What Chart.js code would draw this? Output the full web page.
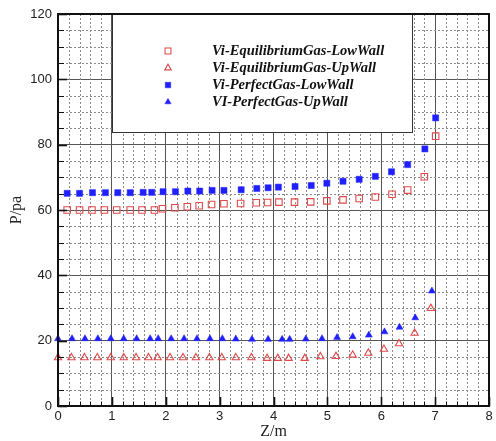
<!DOCTYPE html>
<html>
<head>
<meta charset="utf-8">
<script src="https://cdn.jsdelivr.net/npm/chart.js@4.4.1/dist/chart.umd.min.js"></script>
<style>
  html, body { margin: 0; padding: 0; background: #ffffff; }
  #wrap { width: 496px; height: 441px; }
</style>
</head>
<body>
<div id="wrap"><canvas id="c" width="496" height="441"></canvas></div>
<script>
// ---- Data ----
const seriesLabels = [
  "Vi-EquilibriumGas-LowWall",
  "Vi-EquilibriumGas-UpWall",
  "Vi-PerfectGas-LowWall",
  "VI-PerfectGas-UpWall"
];

const eqLowZ = [0.17,0.40,0.63,0.86,1.09,1.34,1.56,1.79,1.94,2.17,2.40,2.62,2.85,3.08,3.39,3.68,3.89,4.10,4.39,4.69,4.99,5.29,5.59,5.89,6.20,6.49,6.80,7.01];
const eqLowP = [60.0,60.0,60.0,60.0,60.0,60.0,60.0,60.0,60.4,60.7,61.0,61.3,61.7,61.9,62.0,62.2,62.3,62.4,62.4,62.5,62.8,63.1,63.5,64.0,64.8,66.1,70.2,82.6];

const eqUpZ = [0.00,0.25,0.49,0.73,0.98,1.22,1.45,1.68,1.85,2.08,2.32,2.56,2.81,3.04,3.30,3.59,3.88,4.08,4.28,4.58,4.87,5.16,5.47,5.76,6.05,6.33,6.62,6.92];
const eqUpP = [14.8,14.8,14.8,14.8,14.8,14.8,14.8,14.8,14.8,14.8,14.8,14.8,14.8,14.8,14.8,14.8,14.6,14.6,14.6,14.6,15.1,15.2,15.6,16.2,17.4,19.1,22.3,29.9];

const pgLowZ = [0.17,0.40,0.64,0.88,1.11,1.34,1.58,1.74,1.95,2.18,2.41,2.63,2.86,3.08,3.40,3.69,3.90,4.09,4.40,4.70,4.99,5.29,5.59,5.89,6.19,6.49,6.81,7.01];
const pgLowP = [65.1,65.1,65.3,65.3,65.3,65.3,65.4,65.4,65.6,65.6,65.8,65.8,66.0,66.0,66.2,66.6,66.8,67.0,67.2,67.5,68.2,68.8,69.4,70.3,71.7,73.9,78.7,88.2];

const pgUpZ = [0.00,0.26,0.50,0.74,0.98,1.22,1.46,1.71,1.86,2.10,2.34,2.58,2.82,3.05,3.30,3.60,3.90,4.16,4.30,4.60,4.90,5.18,5.47,5.77,6.06,6.34,6.63,6.94];
const pgUpP = [20.6,20.6,20.6,20.6,20.6,20.6,20.6,20.6,20.6,20.6,20.6,20.6,20.6,20.6,20.5,20.4,20.4,20.4,20.4,20.5,20.6,21.0,21.2,21.7,22.7,24.1,27.0,35.2];

const xTicks = [0,1,2,3,4,5,6,7,8];
const yTicks = [0,20,40,60,80,100,120];
const xTitle = "Z/m";
const yTitle = "P/pa";

// ---- helpers ----
function pts(xs, ys) { return xs.map((x, i) => ({ x: x, y: ys[i] })); }

const RED = "#e04a4a";
const BLUE = "#2020ff";

const datasets = [
  { label: seriesLabels[0], data: pts(eqLowZ, eqLowP), pointStyle: "rect", pointRadius: 4.6,
    borderColor: RED, backgroundColor: "rgba(0,0,0,0)", pointBorderWidth: 1.1 },
  { label: seriesLabels[1], data: pts(eqUpZ, eqUpP), pointStyle: "triangle", pointRadius: 4.2,
    borderColor: RED, backgroundColor: "rgba(0,0,0,0)", pointBorderWidth: 1.1 },
  { label: seriesLabels[2], data: pts(pgLowZ, pgLowP), pointStyle: "rect", pointRadius: 4.3,
    borderColor: BLUE, backgroundColor: BLUE, pointBorderWidth: 0.5 },
  { label: seriesLabels[3], data: pts(pgUpZ, pgUpP), pointStyle: "triangle", pointRadius: 4.0,
    borderColor: BLUE, backgroundColor: BLUE, pointBorderWidth: 0.5 }
].map(d => Object.assign(d, { showLine: false, clip: false, pointHoverRadius: d.pointRadius }));

// ---- plugin: minor grid, legend box, frame and inner ticks ----
const decor = {
  id: "decor",
  beforeDatasetsDraw(chart) {
    const { ctx, chartArea: a, scales: { x, y } } = chart;
    ctx.save();
    // minor grid lines (dashed)
    ctx.strokeStyle = "#8a8a8a";
    ctx.lineWidth = 1;
    ctx.setLineDash([2, 2]);
    for (let i = 1; i < 40; i++) {
      if (i % 5 === 0) continue;
      const px = Math.round(x.getPixelForValue(i * 0.2)) + 0.5;
      ctx.beginPath(); ctx.moveTo(px, a.top); ctx.lineTo(px, a.bottom); ctx.stroke();
    }
    for (let v = 5; v < 120; v += 5) {
      if (v % 20 === 0) continue;
      const py = Math.round(y.getPixelForValue(v)) + 0.5;
      ctx.beginPath(); ctx.moveTo(a.left, py); ctx.lineTo(a.right, py); ctx.stroke();
    }
    ctx.setLineDash([]);

    // legend box
    const bx = a.left + 54, by = a.top, bw = 300, bh = 118;
    ctx.fillStyle = "#ffffff";
    ctx.fillRect(bx, by, bw, bh);
    ctx.strokeStyle = "#333333";
    ctx.lineWidth = 1;
    ctx.strokeRect(bx + 0.5, by + 0.5, bw, bh);
    ctx.font = "bold italic 14.5px 'Liberation Serif', 'Times New Roman', serif";
    ctx.textBaseline = "middle";
    ctx.textAlign = "left";
    const rowY0 = by + 37, rowH = 17;
    chart.data.datasets.forEach((ds, i) => {
      const cy = rowY0 + i * rowH;
      const cx = bx + 56;
      ctx.fillStyle = ds.backgroundColor;
      ctx.strokeStyle = ds.borderColor;
      ctx.lineWidth = ds.pointBorderWidth;
      Chart.helpers.drawPoint(ctx, {
        pointStyle: ds.pointStyle, radius: ds.pointRadius * 0.9,
        borderWidth: ds.pointBorderWidth, rotation: 0
      }, cx, cy);
      ctx.fillStyle = "#111111";
      ctx.fillText(ds.label, bx + 100, cy);
    });
    ctx.restore();
  },
  afterDatasetsDraw(chart) {
    const { ctx, chartArea: a, scales: { x, y } } = chart;
    ctx.save();
    ctx.strokeStyle = "#111111";
    // inner ticks on bottom axis
    for (let i = 0; i <= 40; i++) {
      const px = Math.round(x.getPixelForValue(i * 0.2)) + 0.5;
      const major = i % 5 === 0;
      ctx.lineWidth = major ? 1.6 : 1;
      ctx.beginPath(); ctx.moveTo(px, a.bottom); ctx.lineTo(px, a.bottom - (major ? 9 : 4.5)); ctx.stroke();
    }
    // inner ticks on left axis
    for (let v = 0; v <= 120; v += 5) {
      const py = Math.round(y.getPixelForValue(v)) + 0.5;
      const major = v % 20 === 0;
      ctx.lineWidth = major ? 1.6 : 1;
      ctx.beginPath(); ctx.moveTo(a.left, py); ctx.lineTo(a.left + (major ? 9 : 6), py); ctx.stroke();
    }
    // frame
    ctx.lineWidth = 2;
    ctx.strokeStyle = "#111111";
    ctx.strokeRect(a.left, a.top, a.right - a.left, a.bottom - a.top);
    ctx.restore();
  }
};

new Chart(document.getElementById("c"), {
  type: "scatter",
  data: { datasets: datasets },
  options: {
    responsive: false,
    animation: false,
    devicePixelRatio: 1,
    layout: { padding: { left: 0, right: 7, top: 14, bottom: 0 } },
    plugins: { legend: { display: false }, tooltip: { enabled: false } },
    scales: {
      x: {
        type: "linear", min: 0, max: 8,
        afterFit(s) { s.height = 35; },
        afterBuildTicks(s) { s.ticks = xTicks.map(v => ({ value: v })); },
        ticks: { padding: 3, color: "#222", font: { family: "'Liberation Sans', Arial, sans-serif", size: 13 } },
        grid: { color: "#555555", lineWidth: 1, drawTicks: false },
        border: { display: false },
        title: { display: true, text: xTitle, color: "#222", padding: { top: 0, bottom: 0 },
                 font: { family: "'Liberation Serif', 'Times New Roman', serif", size: 16 } }
      },
      y: {
        type: "linear", min: 0, max: 120,
        afterFit(s) { s.width = 58; },
        afterBuildTicks(s) { s.ticks = yTicks.map(v => ({ value: v })); },
        ticks: { padding: 6, color: "#222", font: { family: "'Liberation Sans', Arial, sans-serif", size: 13 } },
        grid: { color: "#555555", lineWidth: 1, drawTicks: false },
        border: { display: false },
        title: { display: true, text: yTitle, color: "#222", padding: { top: 7, bottom: 0 },
                 font: { family: "'Liberation Serif', 'Times New Roman', serif", size: 16 } }
      }
    }
  },
  plugins: [decor]
});
</script>
</body>
</html>
